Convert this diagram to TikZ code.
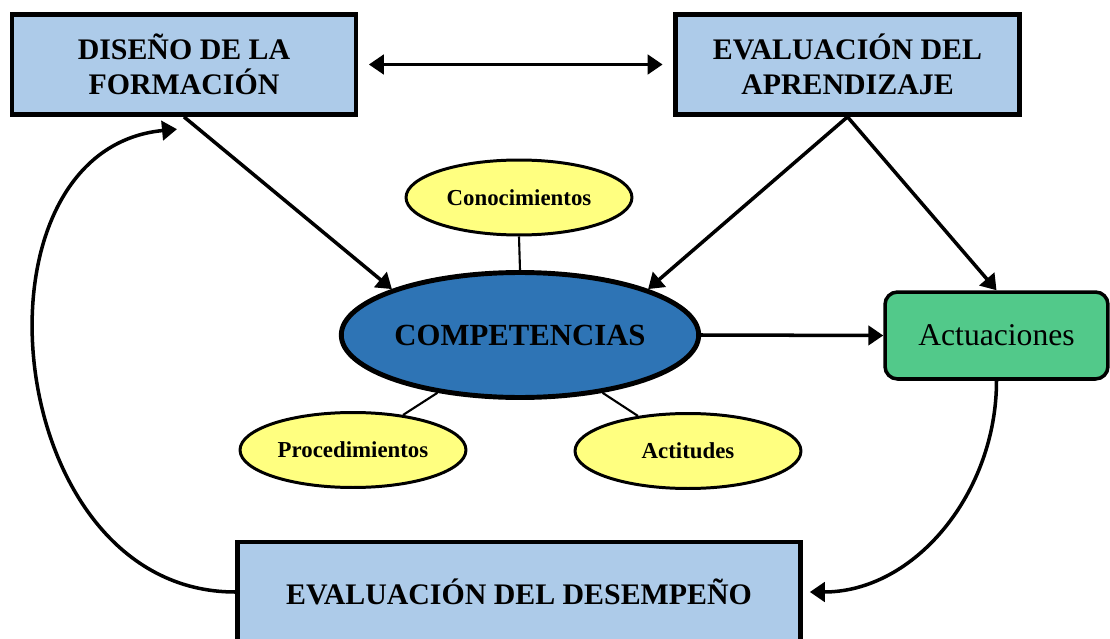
\documentclass[tikz,border=0pt]{standalone}
\usepackage{fontspec}
\setmainfont{Liberation Serif}
\usetikzlibrary{shapes.geometric,arrows.meta}
\definecolor{cajaazul}{RGB}{173,203,233}
\definecolor{azulcomp}{RGB}{46,116,181}
\definecolor{amarillo}{RGB}{255,255,128}
\definecolor{verde}{RGB}{82,201,138}

\begin{document}
\begin{tikzpicture}[x=0.02cm, y=-0.02cm, >={Triangle[length=8.5pt,width=11pt]},
    caja/.style={draw, line width=2.7pt, fill=cajaazul, align=center,
      font=\bfseries\fontsize{17}{20}\selectfont, minimum width=6.88cm, minimum height=2cm},
    hoja/.style={ellipse, draw, line width=1.7pt, fill=amarillo, inner sep=0pt,
      font=\bfseries\fontsize{13}{15}\selectfont, minimum width=4.52cm, minimum height=1.5cm},
    flecha/.style={->, line width=2pt},
    enlace/.style={line width=1.2pt}]
  \clip (0,0) rectangle (1110,639);
  % cajas
  \node[caja] (diseno) at (184,64.5) {DISEÑO DE LA\\FORMACIÓN};
  \node[caja] (aprend) at (847.5,64.5) {EVALUACIÓN DEL\\APRENDIZAJE};
  \node[caja, minimum width=11.26cm, minimum height=2cm] (desemp) at (519,592) {EVALUACIÓN DEL DESEMPEÑO};
  % competencias
  \node[ellipse, draw, line width=2.8pt, fill=azulcomp, inner sep=0pt, minimum width=7.15cm, minimum height=2.5cm,
    font=\bfseries\fontsize{17.5}{20}\selectfont] (comp) at (520,335) {COMPETENCIAS};
  \node[hoja] (conoc) at (519,197.5) {Conocimientos};
  \node[hoja] (proc) at (353,450) {Procedimientos};
  \node[hoja] (actit) at (688,451) {Actitudes};
  \node[draw, line width=2pt, fill=verde, rounded corners=0.25cm, minimum width=4.46cm,
    minimum height=1.74cm, font=\fontsize{18}{22}\selectfont] (actua) at (996.5,335.5) {Actuaciones};
  % enlaces
  \draw[enlace] (conoc.south) -- (comp.north);
  \draw[enlace] (comp.215) -- (proc.35);
  \draw[enlace] (comp.325) -- (actit.145);
  % flechas
  \draw[<->, line width=2pt, shorten <=6pt, shorten >=6pt] (diseno.east) -- (aprend.west);
  \draw[flecha] (diseno.south) -- (comp.north west);
  \draw[flecha] (aprend.south) -- (comp.north east);
  \draw[flecha] (aprend.south) -- (actua.north);
  \draw[flecha] (comp.east) -- (actua.west);
  \draw[flecha, shorten >=4pt] (actua.south) to[out=-90, in=0] (desemp.east);
  \draw[flecha] (desemp.west) .. controls (0,592) and (-40,150) .. ([xshift=-4pt,yshift=-7pt]diseno.south);
\end{tikzpicture}
\end{document}
